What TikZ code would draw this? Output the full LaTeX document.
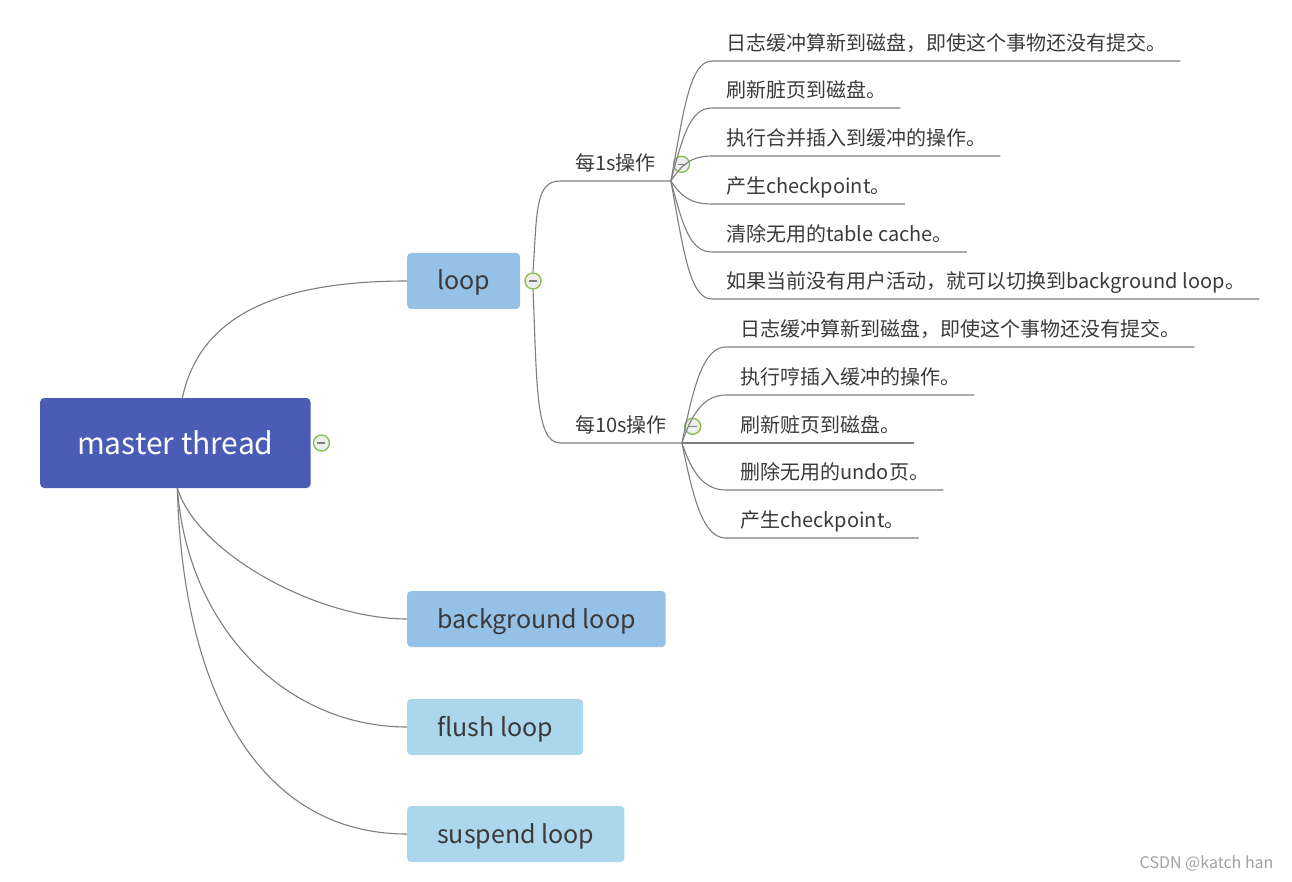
\documentclass[tikz,border=0pt]{standalone}
\usepackage{fontspec}
\setmainfont{Noto Sans CJK SC}
\usepackage{xcolor}
\usetikzlibrary{positioning}

\definecolor{masterblue}{HTML}{4A5CB6}
\definecolor{loopblue}{HTML}{95C1E6}
\definecolor{paleblue}{HTML}{ABD6EC}
\definecolor{linegray}{HTML}{7E7E7E}
\definecolor{textgray}{HTML}{3A3A3A}
\definecolor{foldgreen}{HTML}{8CC152}
\definecolor{foldfill}{HTML}{EEEEEE}
\definecolor{markgray}{HTML}{A0A0A0}

\begin{document}
\begin{tikzpicture}[
  x=1pt, y=-1pt,
  topic/.style={rounded corners=4pt, anchor=west, inner xsep=30pt, minimum height=56pt, text height=22pt, text depth=4pt, text=textgray, font=\fontsize{25}{29}\selectfont},
  stepnode/.style={anchor=south west, inner xsep=15pt, inner ysep=6pt, text depth=4pt, text=textgray, font=\fontsize{20}{24}\selectfont},
  leaf/.style={stepnode, inner xsep=14pt},
  fold/.style={circle, draw=foldgreen, line width=1.4pt, fill=foldfill, minimum size=16pt, inner sep=0pt,
    path picture={\draw[gray, line width=1.4pt] ([xshift=-4pt]path picture bounding box.center) -- ([xshift=4pt]path picture bounding box.center);}},
  conn/.style={draw=linegray, line width=1.1pt}
]
\useasboundingbox (0,0) rectangle (1292,882);

% main topics
\node[topic, fill=masterblue, text=white, inner xsep=37pt, minimum height=90pt, text height=26pt, text depth=4pt, font=\fontsize{30}{35}\selectfont] (master) at (40,443) {master thread};
\node[fold, right=2pt of master] (mfold) {};
\node[topic, fill=loopblue] (loop) at (407,281) {loop};
\node[fold, right=4pt of loop] (lfold) {};
\node[topic, fill=loopblue] (bgloop) at (407,619) {background loop};
\node[topic, fill=paleblue] (flush) at (407,727) {flush loop};
\node[topic, fill=paleblue] (suspend) at (407,834) {suspend loop};

\draw[conn] ([xshift=7pt]master.north) .. controls +(15,-70) and +(-150,0) .. (loop.west);
\draw[conn] ([xshift=2pt]master.south) .. controls +(20,65) and +(-90,0) .. (bgloop.west);
\draw[conn] ([xshift=2pt]master.south) .. controls +(10,140) and +(-120,0) .. (flush.west);
\draw[conn] ([xshift=2pt]master.south) .. controls +(5,200) and +(-150,0) .. (suspend.west);

% loop steps
\node[stepnode] (sec1) at (560,181) {每1s操作};
\node[fold, right=2pt of sec1] (fold1) {};
\node[stepnode] (sec10) at (560,443) {每10s操作};
\node[fold, right=2pt of sec10] (fold10) {};

\draw[conn] (lfold.north) .. controls +(4,-60) and +(-25,0) .. (sec1.south west) -- (sec1.south east);
\draw[conn] (lfold.south) .. controls +(4,90) and +(-25,0) .. (sec10.south west) -- (sec10.south east);

% every second
\node[leaf] (one1) at (712,61) {日志缓冲算新到磁盘，即使这个事物还没有提交。};
\node[leaf] (one2) at (712,108) {刷新脏页到磁盘。};
\node[leaf] (one3) at (712,156) {执行合并插入到缓冲的操作。};
\node[leaf] (one4) at (712,204) {产生checkpoint。};
\node[leaf] (one5) at (712,252) {清除无用的table cache。};
\node[leaf] (one6) at (712,299) {如果当前没有用户活动，就可以切换到background loop。};

\draw[conn] (sec1.south east) .. controls +(13,-72) and +(-22,0) .. (one1.south west) -- (one1.south east);
\draw[conn] (sec1.south east) .. controls +(12,-45) and +(-22,0) .. (one2.south west) -- (one2.south east);
\draw[conn] (sec1.south east) .. controls +(10,-15) and +(-22,0) .. (one3.south west) -- (one3.south east);
\draw[conn] (sec1.south east) .. controls +(10,15) and +(-22,0) .. (one4.south west) -- (one4.south east);
\draw[conn] (sec1.south east) .. controls +(12,45) and +(-22,0) .. (one5.south west) -- (one5.south east);
\draw[conn] (sec1.south east) .. controls +(13,72) and +(-22,0) .. (one6.south west) -- (one6.south east);

% every ten seconds
\node[leaf] (ten1) at (726,347) {日志缓冲算新到磁盘，即使这个事物还没有提交。};
\node[leaf] (ten2) at (726,395) {执行哼插入缓冲的操作。};
\node[leaf] (ten3) at (726,443) {刷新赃页到磁盘。};
\node[leaf] (ten4) at (726,490) {删除无用的undo页。};
\node[leaf] (ten5) at (726,538) {产生checkpoint。};

\draw[conn] (sec10.south east) .. controls +(12,-60) and +(-22,0) .. (ten1.south west) -- (ten1.south east);
\draw[conn] (sec10.south east) .. controls +(10,-30) and +(-22,0) .. (ten2.south west) -- (ten2.south east);
\draw[conn] (sec10.south east) -- (ten3.south west) -- (ten3.south east);
\draw[conn] (sec10.south east) .. controls +(10,30) and +(-22,0) .. (ten4.south west) -- (ten4.south east);
\draw[conn] (sec10.south east) .. controls +(12,60) and +(-22,0) .. (ten5.south west) -- (ten5.south east);

\node[anchor=east, text=markgray, font=\fontsize{16}{18}\selectfont] (mark) at (1277,864) {CSDN @katch han};
\end{tikzpicture}
\end{document}
